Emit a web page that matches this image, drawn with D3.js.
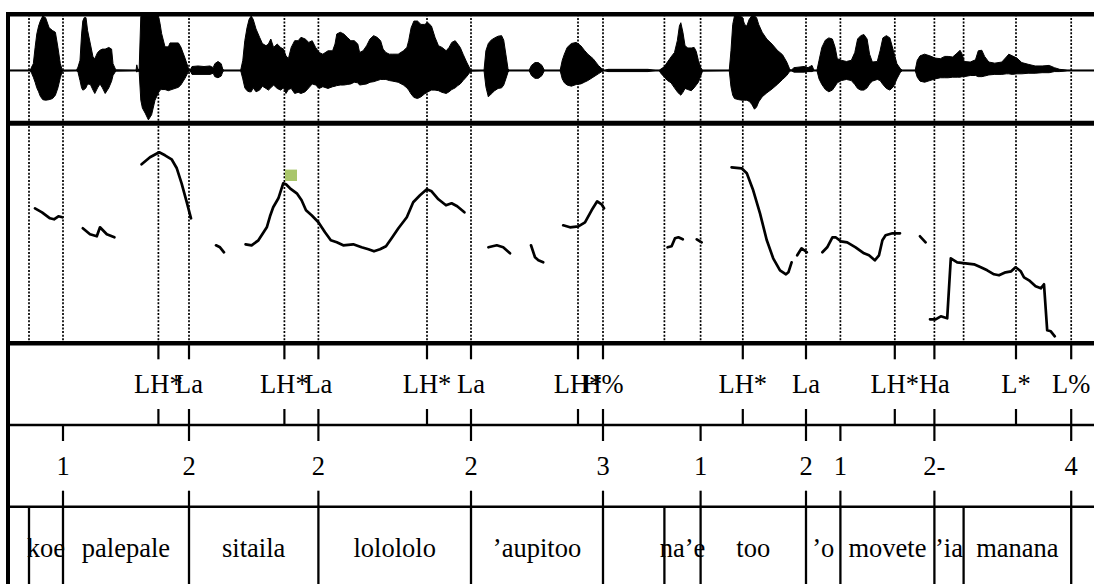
<!DOCTYPE html>
<html>
<head>
<meta charset="utf-8">
<script src="https://cdn.jsdelivr.net/npm/d3@7"></script>
<style>
body { margin: 0; background: #fff; }
</style>
</head>
<body>
<div class="container"></div>
<script>
var WIDTH = 1094, HEIGHT = 584;
var T_END = 2.73;

// tone tier (points)
var toneTimes = [0.376, 0.4525, 0.691, 0.776, 1.0475, 1.1575, 1.425, 1.4875, 1.837, 1.995, 2.217, 2.316, 2.52, 2.658];
var toneLabels = ["LH*", "La", "LH*", "La", "LH*", "La", "LH*", "H%", "LH*", "La", "LH*", "Ha", "L*", "L%"];

// break index tier (points)
var breakTimes = [0.1375, 0.4525, 0.776, 1.1575, 1.4875, 1.7315, 1.995, 2.081, 2.316, 2.658];
var breakLabels = ["1", "2", "2", "2", "3", "1", "2", "1", "2-", "4"];

// word tier (interval boundaries, labels between them)
var wordBounds = [0.0525, 0.1375, 0.4525, 0.776, 1.1575, 1.4875, 1.641, 1.7315, 1.995, 2.081, 2.316, 2.389, 2.658];
var wordLabels = ["", "koe", "palepale", "sitaila", "lolololo", "\u2019aupitoo", "", "na\u2019e", "too", "\u2019o", "movete", "\u2019ia", "manana", ""];

// pitch track, Hz (null = unvoiced gap)
var pitchTimes = [
  0.0675, 0.085, 0.105, 0.115, 0.126, 0.136, 0.16,
  0.187, 0.205, 0.222, 0.23, 0.247, 0.266, 0.3,
  0.334, 0.355, 0.378, 0.3925, 0.409, 0.422, 0.434, 0.447, 0.4575, 0.49,
  0.52, 0.53, 0.54, 0.57,
  0.594, 0.609, 0.626, 0.647, 0.655, 0.663, 0.676, 0.688, 0.695, 0.705, 0.722, 0.734, 0.745, 0.759, 0.776, 0.7925,
  0.807, 0.822, 0.838, 0.863, 0.884, 0.901, 0.915, 0.93, 0.945, 0.959, 0.976, 0.997, 1.013, 1.03, 1.047, 1.059,
  1.076, 1.095, 1.109, 1.123, 1.141, 1.17,
  1.201, 1.222, 1.238, 1.255, 1.28,
  1.3075, 1.3175, 1.326, 1.338, 1.36,
  1.388, 1.405, 1.426, 1.4425, 1.459, 1.473, 1.484, 1.49, 1.57,
  1.649, 1.659, 1.6675, 1.676, 1.687, 1.70,
  1.722, 1.734, 1.77,
  1.809, 1.834, 1.847, 1.863, 1.88, 1.897, 1.913, 1.93, 1.945, 1.951, 1.959, 1.966,
  1.973, 1.984, 1.997, 2.02,
  2.036, 2.048, 2.061, 2.069, 2.082, 2.098, 2.119, 2.14, 2.1525, 2.167, 2.1775, 2.186, 2.194, 2.211, 2.23, 2.25,
  2.28, 2.294, 2.30,
  2.305, 2.319, 2.332, 2.348, 2.357, 2.373, 2.394, 2.415, 2.432, 2.448, 2.465, 2.4775, 2.494, 2.508, 2.519,
  2.532, 2.54, 2.5525, 2.569, 2.582, 2.59, 2.598, 2.607, 2.617
];
var pitchHz = [
  210, 206, 200, 199, 202, 201, null,
  190, 184, 182, 191, 184, 181, null,
  254, 261, 266, 263, 259, 250, 235, 216, 200, null,
  173, 171, 166, null,
  174, 173, 178, 191, 202, 211, 220, 235, 234, 230, 225, 218, 208, 203, 196, 186,
  178, 176, 173, 174, 171, 169, 167, 169, 172, 180, 190, 201, 216, 223, 229, 227,
  219, 213, 215, 212, 206, null,
  171, 173, 171, 165, null,
  173, 161, 158, 156, null,
  193, 191, 192, 196, 208, 217, 214, 210, null,
  171, 172, 180, 181, 179, null,
  179, 176, null,
  251, 250, 245, 228, 205, 178, 160, 148, 144, 146, 156, null,
  163, 170, 166, null,
  166, 171, 181, 181, 177, 176, 171, 165, 163, 158, 163, 178, 183, 185, 185, null,
  182, 176, null,
  99, 99, 102, 100, 160, 156, 155, 154, 151, 148, 144, 143, 146, 147, 151,
  147, 141, 138, 132, 130, 134, 88, 87, 82
];

// highlighted pitch point
var markTimes = [0.7075];
var markHz = [243];

// waveform envelope (relative amplitude)
var waveTimes = [
  0,
  0.0555, 0.059, 0.0633, 0.0678, 0.072, 0.0765, 0.0808, 0.087, 0.094, 0.1028, 0.1115, 0.1185, 0.1248, 0.1308, 0.136,
  0.171, 0.175, 0.18, 0.184, 0.187, 0.1905, 0.195, 0.199, 0.206, 0.2125, 0.217, 0.224, 0.23, 0.236, 0.243, 0.252, 0.259, 0.2625, 0.2695,
  0.32, 0.322, 0.325,
  0.328, 0.332, 0.336, 0.343, 0.351, 0.359, 0.3675, 0.376, 0.38, 0.384, 0.3925, 0.401, 0.405, 0.426, 0.432, 0.4425, 0.451, 0.455,
  0.46, 0.475, 0.49, 0.505, 0.513, 0.517, 0.525, 0.533, 0.537, 0.541,
  0.5816, 0.587, 0.592, 0.5975, 0.6027, 0.608, 0.613, 0.62, 0.629, 0.636,
  0.645, 0.651, 0.657, 0.664, 0.673, 0.6816, 0.6886, 0.695, 0.701, 0.708,
  0.7167, 0.7254, 0.7325, 0.743, 0.752, 0.7605, 0.769, 0.778, 0.787, 0.8,
  0.8115, 0.8175, 0.822, 0.8307, 0.8395, 0.848, 0.857, 0.8657, 0.8745, 0.879,
  0.8877, 0.8965, 0.905, 0.914, 0.9227, 0.9315, 0.9377, 0.9447, 0.9535, 0.962,
  0.9755, 0.9885, 0.9973, 1.0017, 1.0078, 1.0148, 1.0237, 1.0324, 1.041, 1.05,
  1.0587, 1.0675, 1.0762, 1.085, 1.0955, 1.1026, 1.1095, 1.118, 1.1245, 1.1306,
  1.1377, 1.1465, 1.155, 1.1605,
  1.19, 1.1947, 1.2008, 1.2078, 1.2166, 1.2253, 1.234, 1.2393, 1.2446, 1.25, 1.2535,
  1.3025, 1.3087, 1.3175, 1.326, 1.335, 1.341,
  1.3803, 1.3856, 1.3909, 1.3979, 1.4084, 1.4207, 1.4321, 1.4409, 1.4496, 1.4628, 1.4759, 1.4847, 1.4908,
  1.5, 1.6, 1.62,
  1.6277, 1.6329, 1.64, 1.6487, 1.6575, 1.6662, 1.6733, 1.6785, 1.682, 1.6873, 1.6926, 1.6996, 1.7083, 1.7154, 1.7206, 1.7259, 1.7311, 1.7364,
  1.8031, 1.8074, 1.8118, 1.8162, 1.8267, 1.8355, 1.8416, 1.8469, 1.853, 1.8592, 1.8662, 1.8715, 1.8767, 1.8855, 1.8969, 1.91, 1.9232, 1.9364, 1.9469, 1.9539, 1.9574,
  1.965, 1.99, 2.0, 2.01, 2.015,
  2.0223, 2.0276, 2.0346, 2.0434, 2.0521, 2.0609, 2.0679, 2.0732, 2.0837, 2.096, 2.1083, 2.117, 2.124, 2.1319, 2.1398, 2.1477, 2.1539, 2.1609, 2.1732, 2.1802, 2.1872, 2.196, 2.2047, 2.2135, 2.2223, 2.2311, 2.2363,
  2.2679, 2.2731, 2.2801, 2.2915, 2.3047, 2.3179, 2.331, 2.3415, 2.3503, 2.3617, 2.3731, 2.3801, 2.3854, 2.3906, 2.4056, 2.4187, 2.4257, 2.4345,
  2.4415, 2.452, 2.4669, 2.4845, 2.4959, 2.502, 2.5108, 2.5222, 2.5345, 2.5503, 2.5678, 2.5853, 2.6029, 2.616, 2.6292, 2.6423, 2.6485,
  2.73
];
var waveMax = [
  0,
  0, 0.06, 0.12, 0.41, 0.65, 0.79, 0.88, 0.97, 0.94, 0.76, 0.71, 0.68, 0.41, 0.12, 0,
  0, 0.06, 0.18, 0.65, 0.88, 0.94, 0.94, 0.71, 0.47, 0.24, 0.21, 0.32, 0.36, 0.38, 0.38, 0.41, 0.38, 0.12, 0.01,
  0, 0.1, 0,
  0.04, 0.96, 0.99, 0.99, 0.99, 0.99, 0.99, 0.97, 0.84, 0.66, 0.42, 0.42, 0.49, 0.49, 0.42, 0.22, 0.04, 0,
  0.07, 0.08, 0.07, 0.08, 0.05, 0.12, 0.16, 0.12, 0.02, 0,
  0, 0.18, 0.53, 0.76, 0.91, 0.97, 0.91, 0.74, 0.59, 0.48,
  0.44, 0.47, 0.56, 0.41, 0.47, 0.41, 0.38, 0.26, 0.21, 0.41,
  0.53, 0.53, 0.59, 0.56, 0.5, 0.53, 0.41, 0.32, 0.29, 0.35,
  0.35, 0.47, 0.65, 0.68, 0.65, 0.59, 0.53, 0.53, 0.47, 0.32,
  0.35, 0.44, 0.56, 0.62, 0.59, 0.53, 0.38, 0.32, 0.29, 0.29,
  0.29, 0.35, 0.41, 0.53, 0.76, 0.88, 0.88, 0.82, 0.82, 0.85,
  0.79, 0.59, 0.44, 0.41, 0.35, 0.41, 0.5, 0.53, 0.47, 0.41,
  0.29, 0.15, 0.03, 0,
  0, 0.35, 0.48, 0.54, 0.58, 0.61, 0.62, 0.54, 0.29, 0.03, 0,
  0, 0.09, 0.14, 0.14, 0.09, 0,
  0, 0.18, 0.29, 0.41, 0.48, 0.5, 0.44, 0.36, 0.29, 0.21, 0.09, 0.03, 0,
  0.02, 0.02, 0,
  0, 0.03, 0.06, 0.15, 0.24, 0.32, 0.53, 0.79, 0.85, 0.68, 0.44, 0.4, 0.4, 0.41, 0.34, 0.18, 0.06, 0,
  0, 0.35, 0.82, 0.97, 0.97, 0.95, 0.82, 0.79, 0.91, 0.97, 0.97, 0.94, 0.82, 0.68, 0.56, 0.47, 0.36, 0.28, 0.15, 0.03, 0,
  0.05, 0.07, 0.05, 0.09, 0,
  0, 0.18, 0.41, 0.54, 0.58, 0.56, 0.41, 0.21, 0.18, 0.16, 0.18, 0.32, 0.56, 0.62, 0.64, 0.56, 0.29, 0.15, 0.16, 0.35, 0.58, 0.62, 0.58, 0.35, 0.12, 0.03, 0,
  0, 0.18, 0.26, 0.29, 0.26, 0.22, 0.21, 0.25, 0.25, 0.24, 0.31, 0.36, 0.29, 0.16, 0.15, 0.19, 0.35, 0.36,
  0.25, 0.15, 0.13, 0.15, 0.24, 0.29, 0.26, 0.22, 0.14, 0.11, 0.08, 0.08, 0.09, 0.05, 0.02, 0.01, 0,
  0
];
var waveMin = [
  0,
  0, -0.05, -0.12, -0.21, -0.31, -0.38, -0.46, -0.52, -0.53, -0.52, -0.5, -0.44, -0.31, -0.13, -0.01,
  0, -0.03, -0.18, -0.31, -0.35, -0.34, -0.31, -0.24, -0.25, -0.35, -0.41, -0.31, -0.24, -0.31, -0.41, -0.31, -0.19, -0.09, -0.01,
  0, -0.03, 0,
  -0.03, -0.53, -0.67, -0.76, -0.88, -0.79, -0.53, -0.4, -0.35, -0.34, -0.34, -0.36, -0.35, -0.3, -0.26, -0.14, -0.02, 0,
  -0.07, -0.07, -0.07, -0.07, -0.05, -0.11, -0.13, -0.1, -0.02, 0,
  0, -0.15, -0.31, -0.36, -0.38, -0.38, -0.31, -0.38, -0.35, -0.28,
  -0.32, -0.35, -0.31, -0.26, -0.32, -0.35, -0.31, -0.41, -0.34, -0.32,
  -0.41, -0.39, -0.41, -0.38, -0.31, -0.24, -0.26, -0.32, -0.29, -0.32,
  -0.29, -0.28, -0.27, -0.26, -0.26, -0.25, -0.24, -0.21, -0.22, -0.26,
  -0.25, -0.24, -0.21, -0.2, -0.18, -0.16, -0.16, -0.16, -0.18, -0.19,
  -0.21, -0.26, -0.31, -0.35, -0.42, -0.48, -0.5, -0.47, -0.42, -0.38,
  -0.35, -0.35, -0.36, -0.39, -0.41, -0.38, -0.34, -0.31, -0.27, -0.24,
  -0.18, -0.11, -0.03, -0.01,
  0, -0.29, -0.47, -0.42, -0.36, -0.32, -0.31, -0.26, -0.15, -0.03, 0,
  0, -0.09, -0.14, -0.14, -0.09, 0,
  0, -0.15, -0.22, -0.26, -0.28, -0.25, -0.24, -0.21, -0.18, -0.12, -0.06, -0.02, 0,
  -0.02, -0.02, 0,
  0, -0.06, -0.11, -0.18, -0.22, -0.31, -0.38, -0.42, -0.44, -0.39, -0.32, -0.34, -0.36, -0.31, -0.26, -0.21, -0.11, -0.01,
  0, -0.29, -0.44, -0.5, -0.52, -0.53, -0.53, -0.53, -0.55, -0.6, -0.69, -0.65, -0.56, -0.47, -0.4, -0.33, -0.25, -0.16, -0.09, -0.02, 0,
  -0.03, -0.03, -0.02, -0.02, 0,
  0, -0.15, -0.25, -0.34, -0.38, -0.35, -0.28, -0.22, -0.18, -0.16, -0.18, -0.25, -0.32, -0.35, -0.35, -0.31, -0.24, -0.19, -0.16, -0.18, -0.25, -0.32, -0.35, -0.29, -0.15, -0.03, 0,
  0, -0.12, -0.19, -0.21, -0.18, -0.15, -0.13, -0.13, -0.13, -0.12, -0.12, -0.12, -0.11, -0.11, -0.09, -0.09, -0.11, -0.11,
  -0.1, -0.08, -0.07, -0.07, -0.06, -0.06, -0.07, -0.06, -0.06, -0.05, -0.05, -0.04, -0.04, -0.02, -0.02, -0.01, 0,
  0
];

var TOP = 14.3, WAVE_BOTTOM = 123.3, PITCH_BOTTOM = 343.3, TIER_H = 81.7;
var FONT = "'Liberation Serif', 'Times New Roman', serif";

var x = d3.scaleLinear().domain([0, T_END]).range([8, 1100]);
var yWave = d3.scaleLinear().domain([-0.941, 1]).range([WAVE_BOTTOM, TOP]);
var yPitch = d3.scaleLinear().domain([75, 295]).range([PITCH_BOTTOM, WAVE_BOTTOM]);

var tierTop = function(i){
  return PITCH_BOTTOM + i * TIER_H;
}

var hline = function(g, y, w){
  g.append("line")
    .attr("x1", 6).attr("x2", 1100)
    .attr("y1", y).attr("y2", y)
    .attr("stroke", "#000")
    .attr("stroke-width", w);
}

var drawWave = function(g){
  var pts = waveTimes.map(function(t, i){ return {t: t, hi: waveMax[i], lo: waveMin[i]}; });
  var area = d3.area()
    .x(function(d){ return x(d.t); })
    .y0(function(d){ return yWave(d.lo); })
    .y1(function(d){ return yWave(d.hi); });
  g.append("line")
    .attr("x1", x(0)).attr("x2", x(T_END))
    .attr("y1", yWave(0)).attr("y2", yWave(0))
    .attr("stroke", "#000").attr("stroke-width", 2);
  g.append("path")
    .datum(pts)
    .attr("d", area)
    .attr("fill", "#000")
    .attr("stroke", "#000")
    .attr("stroke-width", 1);
}

var drawDotted = function(g){
  var times = d3.sort(Array.from(new Set(toneTimes.concat(breakTimes, wordBounds))));
  g.selectAll("line.dot")
    .data(times)
    .enter().append("line")
    .attr("class", "dot")
    .attr("x1", function(d){ return x(d); })
    .attr("x2", function(d){ return x(d); })
    .attr("y1", TOP)
    .attr("y2", PITCH_BOTTOM)
    .attr("stroke", "#000")
    .attr("stroke-width", 1.7)
    .attr("stroke-dasharray", "2,1.6");
}

var drawPitch = function(g){
  var pts = pitchTimes.map(function(t, i){ return {t: t, f: pitchHz[i]}; });
  var line = d3.line()
    .defined(function(d){ return d.f != null; })
    .x(function(d){ return x(d.t); })
    .y(function(d){ return yPitch(d.f); });
  g.append("path")
    .datum(pts)
    .attr("d", line)
    .attr("fill", "none")
    .attr("stroke", "#000")
    .attr("stroke-width", 2.7)
    .attr("stroke-linejoin", "round")
    .attr("stroke-linecap", "round");
  g.selectAll("rect.mark")
    .data(markTimes)
    .enter().append("rect")
    .attr("class", "mark")
    .attr("x", function(d){ return x(d) - 6; })
    .attr("y", function(d, i){ return yPitch(markHz[i]) - 5.7; })
    .attr("width", 12)
    .attr("height", 11.4)
    .attr("fill", "#a9c66b");
}

var drawPointTier = function(g, i, times, labels){
  var top = tierTop(i), bottom = tierTop(i + 1), tick = 16;
  times.forEach(function(t, k){
    g.append("line")
      .attr("x1", x(t)).attr("x2", x(t))
      .attr("y1", top).attr("y2", top + tick)
      .attr("stroke", "#000").attr("stroke-width", 2.2);
    g.append("line")
      .attr("x1", x(t)).attr("x2", x(t))
      .attr("y1", bottom - tick).attr("y2", bottom)
      .attr("stroke", "#000").attr("stroke-width", 2.2);
    g.append("text")
      .attr("x", x(t))
      .attr("y", top + TIER_H / 2 + 9)
      .attr("text-anchor", "middle")
      .attr("font-family", FONT)
      .attr("font-size", 26.5)
      .text(labels[k]);
  });
}

var drawWordTier = function(g, i){
  var top = tierTop(i), bottom = tierTop(i + 1);
  var edges = [0].concat(wordBounds, [T_END]);
  wordBounds.forEach(function(t){
    g.append("line")
      .attr("x1", x(t)).attr("x2", x(t))
      .attr("y1", top).attr("y2", bottom)
      .attr("stroke", "#000").attr("stroke-width", 2.3);
  });
  wordLabels.forEach(function(w, k){
    if (!w) return;
    g.append("text")
      .attr("x", (x(edges[k]) + x(edges[k + 1])) / 2)
      .attr("y", top + TIER_H / 2 + 9)
      .attr("text-anchor", "middle")
      .attr("font-family", FONT)
      .attr("font-size", 26.5)
      .text(w);
  });
}

var loadChart = function(){
  var svg = d3.select(".container").append("svg")
    .attr("width", WIDTH)
    .attr("height", HEIGHT)
    .style("display", "block")
    .style("background", "#fff");
  var g = svg.append("g");

  drawWave(g);
  drawDotted(g);
  drawPitch(g);
  drawPointTier(g, 0, toneTimes, toneLabels);
  drawPointTier(g, 1, breakTimes, breakLabels);
  drawWordTier(g, 2);

  hline(g, TOP, 4.5);
  hline(g, WAVE_BOTTOM, 5);
  hline(g, PITCH_BOTTOM, 4.5);
  hline(g, tierTop(1), 2.7);
  hline(g, tierTop(2), 2.5);
  g.append("line")
    .attr("x1", 8).attr("x2", 8)
    .attr("y1", TOP - 2.2).attr("y2", HEIGHT)
    .attr("stroke", "#000").attr("stroke-width", 4);
}

window.onload = loadChart;
</script>
</body>
</html>
